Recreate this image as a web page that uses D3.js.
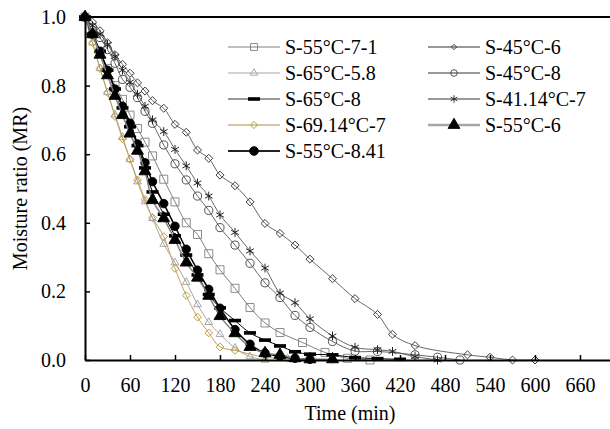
<!DOCTYPE html>
<html><head><meta charset="utf-8">
<script src="https://cdn.jsdelivr.net/npm/d3@7"></script>
<style>body{margin:0;background:#fff}svg{display:block}svg text{font-family:"Liberation Serif","Times New Roman",Times,serif !important;fill:#000}</style>
</head><body>
<svg id="c" width="610" height="429"></svg>
<script>
// ---- data (time in min, moisture ratio) ----
const seriesNames = ["S-55°C-7-1","S-65°C-5.8","S-65°C-8","S-69.14°C-7","S-55°C-8.41","S-45°C-6","S-45°C-8","S-41.14°C-7","S-55°C-6"];
const t_55_7_1 = [0,10,20,30,40,50,60,70,80,90,105,120,135,150,165,180,200,220,240,260,290,320,350,380];
const mr_55_7_1 = [1,0.95,0.9,0.85,0.8,0.76,0.714,0.675,0.635,0.595,0.527,0.461,0.4,0.366,0.31,0.263,0.209,0.153,0.108,0.08,0.051,0.022,0.005,0.0];
const t_65_58 = [0,10,20,30,40,50,60,70,80,90,105,120,135,150,165,180,200,220,240];
const mr_65_58 = [1,0.925,0.85,0.78,0.715,0.65,0.585,0.52,0.462,0.413,0.338,0.284,0.227,0.162,0.11,0.075,0.035,0.01,0.0];
const t_65_8 = [0,10,20,30,40,50,60,70,80,90,105,120,135,150,165,180,200,220,240,260,280,300,330,360,390,420];
const mr_65_8 = [1,0.95,0.9,0.845,0.79,0.735,0.68,0.625,0.56,0.49,0.425,0.362,0.306,0.248,0.191,0.152,0.115,0.079,0.058,0.041,0.024,0.017,0.015,0.007,0.004,0.002];
const t_6914_7 = [0,10,20,30,40,50,60,70,80,90,105,120,135,150,165,180,200,240,270,300,330];
const mr_6914_7 = [1,0.925,0.85,0.78,0.71,0.645,0.585,0.525,0.468,0.415,0.36,0.267,0.188,0.125,0.079,0.038,0.028,0.008,0.005,0.003,0.002];
const t_55_841 = [0,10,20,30,40,50,60,70,80,90,105,120,135,150,165,180,200,220,240,260,280,300];
const mr_55_841 = [1,0.95,0.9,0.845,0.79,0.74,0.69,0.63,0.575,0.52,0.456,0.39,0.323,0.262,0.206,0.151,0.089,0.046,0.02,0.01,0.005,0.002];
const t_45_6 = [0,10,20,30,40,50,60,70,80,90,105,120,135,150,165,180,200,220,240,260,280,300,330,360,390,410,440,510,540,570,600];
const mr_45_6 = [1,0.985,0.96,0.925,0.89,0.862,0.836,0.808,0.784,0.756,0.734,0.687,0.664,0.612,0.588,0.539,0.508,0.461,0.398,0.369,0.335,0.294,0.237,0.179,0.133,0.075,0.042,0.015,0.008,0.0,0.0];
const t_45_8 = [0,10,20,30,40,50,60,70,80,90,105,120,135,150,165,180,200,220,240,260,280,300,330,360,390,440,470,500];
const mr_45_8 = [1,0.97,0.94,0.905,0.865,0.818,0.795,0.765,0.725,0.69,0.627,0.572,0.525,0.478,0.436,0.386,0.335,0.282,0.225,0.182,0.13,0.095,0.054,0.026,0.025,0.015,0.008,0.0];
const t_4114_7 = [0,10,20,30,40,50,60,70,80,90,105,120,135,150,165,180,200,220,240,260,280,300,330,360,390,410,440,470];
const mr_4114_7 = [1,0.975,0.95,0.92,0.885,0.845,0.81,0.775,0.74,0.70,0.666,0.614,0.566,0.516,0.478,0.423,0.372,0.318,0.268,0.195,0.167,0.12,0.07,0.037,0.03,0.025,0.01,0.0];
const t_55_6 = [0,10,20,30,40,50,60,70,80,90,105,120,135,150,165,180,200,220,240,260,280,300,330];
const mr_55_6 = [1,0.95,0.89,0.83,0.77,0.714,0.66,0.61,0.55,0.466,0.413,0.35,0.284,0.24,0.187,0.128,0.078,0.038,0.02,0.015,0.005,0.002,0.002];
const xTicks = [0,60,120,180,240,300,360,420,480,540,600,660];
const yTicks = [0,0.2,0.4,0.6,0.8,1.0];
const xLabel = "Time (min)";
const yLabel = "Moisture ratio (MR)";

// ---- styles ----
const styles = [
  {t:t_55_7_1, v:mr_55_7_1, line:"#7f7f7f", lw:1, mk:"square", ms:64, mstroke:"#7f7f7f", mfill:"none"},
  {t:t_65_58, v:mr_65_58, line:"#a6a6a6", lw:1, mk:"triangle", ms:26, mstroke:"#a0a0a0", mfill:"none"},
  {t:t_65_8, v:mr_65_8, line:"#000", lw:1, mk:"dash", ms:0, mstroke:"#000", mfill:"#000"},
  {t:t_6914_7, v:mr_6914_7, line:"#c2a25a", lw:1, mk:"diamond", ms:30, mstroke:"#c0962f", mfill:"none"},
  {t:t_55_841, v:mr_55_841, line:"#000", lw:1.5, mk:"circle", ms:56, mstroke:"#000", mfill:"#000"},
  {t:t_45_6, v:mr_45_6, line:"#404040", lw:0.8, mk:"diamond", ms:32, mstroke:"#333", mfill:"none"},
  {t:t_45_8, v:mr_45_8, line:"#404040", lw:0.8, mk:"circle", ms:52, mstroke:"#404040", mfill:"none"},
  {t:t_4114_7, v:mr_4114_7, line:"#404040", lw:0.8, mk:"asterisk", ms:55, mstroke:"#222", mfill:"none"},
  {t:t_55_6, v:mr_55_6, line:"#808080", lw:1.5, mk:"triangleF", ms:62, mstroke:"#000", mfill:"#000"}
];
const legendStyles = [
  {lw:1, line:"#7f7f7f", ms:48},
  {lw:1, line:"#a6a6a6", ms:24},
  {lw:1, line:"#333", ms:0},
  {lw:2, line:"#d6c7a0", ms:26},
  {lw:2, line:"#222", ms:60},
  {lw:1, line:"#333", ms:14},
  {lw:1, line:"#333", ms:34},
  {lw:1, line:"#333", ms:40},
  {lw:2.5, line:"#a6a6a6", ms:60}
];

const svg = d3.select("#c");
svg.append("rect").attr("width",610).attr("height",429).attr("fill","#fff");
const L = 85, T = 17, W = 540, H = 343;
const x = d3.scaleLinear().domain([0,720]).range([L, L+W]);
const y = d3.scaleLinear().domain([0,1]).range([T+H, T]);

function marker(g, kind, size, stroke, fill, sw){
  if(kind==="dash"){
    g.append("rect").attr("x",-6).attr("y",-1.8).attr("width",12).attr("height",3.6).attr("fill","#000");
    return;
  }
  let sym, rot = 0;
  if(kind==="square") sym = d3.symbolSquare;
  else if(kind==="triangle"||kind==="triangleF") sym = d3.symbolTriangle;
  else if(kind==="diamond"){ sym = d3.symbolSquare; rot = 45; }
  else if(kind==="circle") sym = d3.symbolCircle;
  else if(kind==="asterisk") sym = d3.symbolAsterisk;
  g.append("path").attr("d", d3.symbol(sym, size)()).attr("transform", rot?`rotate(${rot})`:null)
   .attr("fill", fill).attr("stroke", stroke).attr("stroke-width", sw||0.9);
}

// plot lines & markers
const line = d3.line().x(d=>x(d[0])).y(d=>y(d[1])).curve(d3.curveCatmullRom.alpha(0.5));
styles.forEach((s,i)=>{
  const pts = s.t.map((tt,j)=>[tt, s.v[j]]);
  const g = svg.append("g");
  g.append("path").attr("d", line(pts)).attr("fill","none").attr("stroke", s.line).attr("stroke-width", s.lw);
  pts.forEach(p=>{
    const m = g.append("g").attr("transform",`translate(${x(p[0])},${y(p[1])})`);
    marker(m, s.mk, s.ms, s.mstroke, s.mfill, s.mk==="asterisk"?1:0.9);
  });
});

// axes
const fs = 20;
const xAxis = d3.axisBottom(x).tickValues(xTicks).tickSize(-5).tickSizeOuter(0).tickPadding(18).tickFormat(d3.format("d"));
const gx = svg.append("g").attr("transform",`translate(0,${T+H})`).call(xAxis);
const yAxis = d3.axisLeft(y).tickValues(yTicks).tickSize(-5).tickSizeOuter(0).tickPadding(19).tickFormat(d3.format(".1f"));
const gy = svg.append("g").attr("transform",`translate(${L},0)`).call(yAxis);
[gx,gy].forEach(g=>{
  g.attr("font-family",null).attr("font-size",null);
  g.select(".domain").attr("stroke","#000").attr("stroke-width",2);
  g.selectAll(".tick line").attr("stroke","#000").attr("stroke-width",1.5);
  g.selectAll(".tick text").attr("font-size",fs).attr("fill","#000");
});
svg.append("line").attr("x1",L).attr("x2",L+W).attr("y1",T).attr("y2",T).attr("stroke","#000").attr("stroke-width",2);

svg.append("text").attr("x",350).attr("y",420).attr("text-anchor","middle").attr("font-size",fs).text(xLabel);
svg.append("text").attr("transform",`translate(27,${T+H/2}) rotate(-90)`).attr("text-anchor","middle").attr("font-size",fs).text(yLabel);

// legend
const rowY = [47,73,99,125,151];
const cols = [{x0:228,x1:280,tx:285},{x0:428,x1:480,tx:485}];
seriesNames.forEach((name,i)=>{
  const c = i<5 ? cols[0] : cols[1];
  const r = i<5 ? i : i-5;
  const yy = rowY[r];
  const s = styles[i], ls = legendStyles[i];
  const g = svg.append("g");
  g.append("line").attr("x1",c.x0).attr("x2",c.x1).attr("y1",yy).attr("y2",yy).attr("stroke",ls.line).attr("stroke-width",ls.lw);
  const m = g.append("g").attr("transform",`translate(${(c.x0+c.x1)/2},${yy})`);
  marker(m, s.mk, ls.ms, s.mstroke, s.mfill, 0.9);
  g.append("text").attr("x",c.tx).attr("y",yy).attr("dy","0.35em").attr("font-size",fs).text(name);
});
</script>
</body></html>
